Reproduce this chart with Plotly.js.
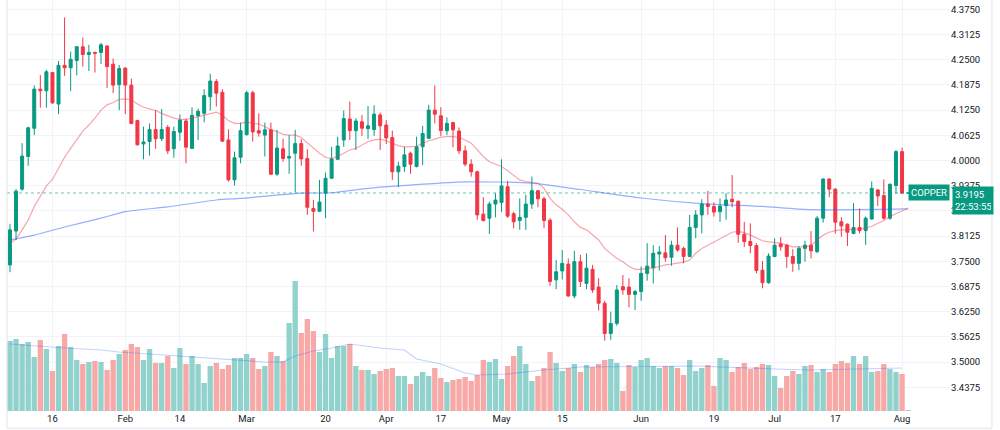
<!DOCTYPE html>
<html>
<head>
<meta charset="utf-8">
<script src="https://cdn.plot.ly/plotly-3.0.1.min.js"></script>
<style>
html,body{margin:0;padding:0;background:#ffffff;}
#chart{width:1000px;height:430px;}
</style>
</head>
<body>
<div id="chart"></div>
<script>
// ---- Data ----
const dates = [
'2023-01-05','2023-01-06','2023-01-09','2023-01-10','2023-01-11','2023-01-12','2023-01-13','2023-01-16','2023-01-17','2023-01-18','2023-01-19','2023-01-20','2023-01-23','2023-01-24','2023-01-25','2023-01-26','2023-01-27','2023-01-30','2023-01-31',
'2023-02-01','2023-02-02','2023-02-03','2023-02-06','2023-02-07','2023-02-08','2023-02-09','2023-02-10','2023-02-13','2023-02-14','2023-02-15','2023-02-16','2023-02-17','2023-02-20','2023-02-21','2023-02-22','2023-02-23','2023-02-24','2023-02-27','2023-02-28',
'2023-03-01','2023-03-02','2023-03-03','2023-03-06','2023-03-07','2023-03-08','2023-03-09','2023-03-10','2023-03-13','2023-03-14','2023-03-15','2023-03-16','2023-03-17','2023-03-20','2023-03-21','2023-03-22','2023-03-23','2023-03-24','2023-03-27','2023-03-28','2023-03-29','2023-03-30','2023-03-31',
'2023-04-03','2023-04-04','2023-04-05','2023-04-06','2023-04-10','2023-04-11','2023-04-12','2023-04-13','2023-04-14','2023-04-17','2023-04-18','2023-04-19','2023-04-20','2023-04-21','2023-04-24','2023-04-25','2023-04-26','2023-04-27','2023-04-28',
'2023-05-01','2023-05-02','2023-05-03','2023-05-04','2023-05-05','2023-05-08','2023-05-09','2023-05-10','2023-05-11','2023-05-12','2023-05-15','2023-05-16','2023-05-17','2023-05-18','2023-05-19','2023-05-22','2023-05-23','2023-05-24','2023-05-25','2023-05-26','2023-05-29','2023-05-30','2023-05-31',
'2023-06-01','2023-06-02','2023-06-05','2023-06-06','2023-06-07','2023-06-08','2023-06-09','2023-06-12','2023-06-13','2023-06-14','2023-06-15','2023-06-16','2023-06-19','2023-06-20','2023-06-21','2023-06-22','2023-06-23','2023-06-26','2023-06-27','2023-06-28','2023-06-29','2023-06-30',
'2023-07-03','2023-07-04','2023-07-05','2023-07-06','2023-07-07','2023-07-10','2023-07-11','2023-07-12','2023-07-13','2023-07-14','2023-07-17','2023-07-18','2023-07-19','2023-07-20','2023-07-21','2023-07-24','2023-07-25','2023-07-26','2023-07-27','2023-07-28','2023-07-31',
'2023-08-01','2023-08-02'
];

const open = [
3.741,3.825,3.929,4.010,4.080,4.177,4.173,4.218,4.140,4.236,4.230,4.248,4.282,4.263,4.268,4.268,4.284,4.239,4.188,
4.229,4.187,4.099,4.041,4.047,4.077,4.054,4.082,4.029,4.070,4.098,4.030,4.111,4.117,4.158,4.196,4.169,4.051,3.952,4.008,
4.064,4.168,4.074,4.063,4.076,3.966,4.029,4.006,4.018,4.042,4.005,3.881,3.874,3.919,3.956,4.003,4.051,4.103,4.074,4.096,4.079,4.077,4.113,
4.088,4.057,3.972,3.985,4.018,3.985,4.034,4.055,4.125,4.111,4.074,4.094,4.073,4.024,3.991,3.972,3.867,3.857,3.892,
3.896,3.935,3.868,3.851,3.859,3.892,3.925,3.905,3.852,3.704,3.726,3.743,3.664,3.749,3.695,3.730,3.686,3.646,3.571,3.596,3.687,3.686,3.668,
3.675,3.720,3.734,3.768,3.771,3.760,3.790,3.782,3.762,3.834,3.865,3.892,3.886,3.873,3.888,3.904,3.899,3.817,3.799,3.789,3.728,3.697,
3.762,3.793,3.790,3.762,3.745,3.782,3.790,3.774,3.857,3.954,3.929,3.848,3.842,3.819,3.834,3.826,3.855,3.927,3.913,3.857,3.938,
4.022,3.9195
];
const high = [
3.843,3.929,4.043,4.084,4.186,4.212,4.225,4.220,4.247,4.355,4.270,4.284,4.305,4.287,4.270,4.292,4.286,4.253,4.237,
4.232,4.203,4.101,4.084,4.092,4.125,4.128,4.088,4.084,4.114,4.103,4.132,4.129,4.177,4.215,4.202,4.177,4.077,4.022,4.094,
4.173,4.173,4.117,4.094,4.094,4.076,4.054,4.063,4.076,4.053,4.028,3.902,3.952,3.970,4.034,4.059,4.124,4.146,4.105,4.113,4.135,4.137,4.119,
4.100,4.074,3.997,4.034,4.022,4.059,4.086,4.138,4.186,4.132,4.107,4.096,4.082,4.037,4.003,3.975,3.909,3.898,3.919,
4.003,3.950,3.873,3.906,3.915,3.960,3.927,3.910,3.857,3.753,3.778,3.757,3.776,3.766,3.770,3.741,3.708,3.652,3.625,3.691,3.716,3.708,3.679,
3.737,3.795,3.790,3.788,3.815,3.801,3.834,3.786,3.865,3.877,3.904,3.925,3.896,3.906,3.919,3.964,3.901,3.848,3.844,3.795,3.751,3.770,
3.807,3.810,3.793,3.780,3.788,3.801,3.825,3.862,3.956,3.956,3.931,3.859,3.844,3.894,3.881,3.861,3.948,3.929,3.953,3.943,4.026,
4.032,3.9200
];
const low = [
3.723,3.803,3.925,3.987,4.063,4.131,4.131,4.140,4.115,4.210,4.172,4.211,4.233,4.222,4.218,4.239,4.180,4.167,4.125,
4.115,4.090,4.037,4.003,4.012,4.029,4.048,4.016,4.007,4.049,3.993,4.029,4.051,4.095,4.124,4.134,4.046,3.948,3.938,3.993,
4.062,4.047,4.059,4.010,3.964,3.962,3.997,3.967,3.921,3.987,3.865,3.824,3.872,3.857,3.954,4.001,4.034,4.051,4.026,4.061,4.053,4.061,4.026,
4.041,3.952,3.934,3.972,3.967,3.983,3.989,4.053,4.092,4.061,4.063,4.033,4.016,3.985,3.960,3.853,3.849,3.818,3.859,
3.872,3.858,3.832,3.828,3.828,3.880,3.884,3.832,3.689,3.681,3.705,3.662,3.658,3.686,3.681,3.672,3.628,3.553,3.555,3.590,3.667,3.636,3.629,
3.652,3.702,3.695,3.727,3.749,3.739,3.774,3.745,3.760,3.807,3.819,3.865,3.861,3.848,3.853,3.884,3.796,3.786,3.770,3.720,3.683,3.694,
3.760,3.776,3.734,3.724,3.728,3.749,3.757,3.770,3.846,3.909,3.819,3.811,3.788,3.817,3.819,3.791,3.853,3.887,3.853,3.853,3.917,
3.917,3.9190
];
const close = [
3.828,3.924,4.011,4.081,4.177,4.173,4.220,4.143,4.236,4.230,4.251,4.282,4.263,4.268,4.266,4.287,4.233,4.187,4.228,
4.187,4.092,4.039,4.046,4.077,4.054,4.077,4.024,4.072,4.100,4.033,4.112,4.122,4.161,4.197,4.167,4.048,3.952,4.007,4.074,
4.168,4.071,4.068,4.076,3.966,4.031,4.005,4.010,4.042,4.004,3.884,3.874,3.897,3.956,4.004,4.036,4.104,4.074,4.098,4.080,4.086,4.115,4.086,
4.056,3.972,3.986,4.014,3.991,4.034,4.067,4.125,4.115,4.074,4.092,4.076,4.024,3.991,3.972,3.865,3.851,3.892,3.902,
3.937,3.862,3.848,3.859,3.892,3.925,3.905,3.851,3.700,3.724,3.745,3.664,3.749,3.700,3.733,3.679,3.646,3.571,3.596,3.679,3.679,3.668,3.675,
3.720,3.738,3.770,3.773,3.759,3.790,3.778,3.762,3.834,3.865,3.892,3.886,3.872,3.887,3.902,3.898,3.817,3.799,3.789,3.727,3.697,3.763,
3.790,3.786,3.762,3.745,3.782,3.790,3.776,3.857,3.954,3.929,3.847,3.838,3.822,3.834,3.826,3.857,3.931,3.912,3.857,3.941,4.022,
3.919,3.9195
];
// volume, thousands of contracts (estimated)
const volume = [
70,72,67,69,54,71,62,40,65,77,64,51,47,49,50,49,41,51,57,
61,67,64,51,62,48,48,55,43,63,47,55,47,28,45,48,42,46,53,53,
57,53,42,45,59,55,50,88,130,78,92,80,59,77,53,65,65,67,45,41,41,37,40,
42,43,35,35,27,35,39,35,43,33,29,31,32,34,30,36,51,49,52,
32,45,55,65,47,30,35,43,59,48,40,43,47,39,46,44,47,51,52,48,20,46,44,
51,53,45,43,45,45,43,36,51,40,43,46,25,53,51,39,44,48,42,44,47,46,
35,23,35,40,37,45,46,39,42,39,47,50,48,55,47,55,39,40,47,42,39,
37,1
];
// short moving average (red), one value per bar
const maShort = [
3.795,3.805,3.828,3.852,3.886,3.910,3.937,3.953,3.981,4.008,4.030,4.051,4.073,4.088,4.105,4.125,4.138,4.144,4.152,
4.153,4.150,4.140,4.132,4.128,4.124,4.117,4.110,4.105,4.102,4.102,4.105,4.109,4.113,4.117,4.120,4.113,4.099,4.092,4.092,
4.096,4.092,4.091,4.084,4.076,4.072,4.065,4.063,4.063,4.057,4.044,4.030,4.018,4.008,4.005,4.010,4.019,4.026,4.030,4.039,4.047,4.051,4.053,
4.049,4.043,4.037,4.034,4.034,4.036,4.043,4.049,4.053,4.058,4.059,4.059,4.057,4.051,4.043,4.026,4.010,3.997,3.991,
3.985,3.975,3.964,3.952,3.948,3.945,3.944,3.931,3.906,3.890,3.879,3.865,3.848,3.834,3.828,3.815,3.803,3.782,3.770,3.757,3.749,3.737,3.730,
3.730,3.733,3.733,3.737,3.741,3.743,3.745,3.748,3.753,3.770,3.782,3.790,3.797,3.805,3.813,3.822,3.824,3.821,3.815,3.807,3.801,3.798,
3.796,3.795,3.790,3.786,3.786,3.786,3.788,3.803,3.815,3.822,3.826,3.828,3.828,3.829,3.830,3.832,3.837,3.844,3.851,3.861,3.868,
3.876,3.882
];
// long moving average (blue), read at sample dates
const maLongDates = ['2023-01-05','2023-01-11','2023-01-18','2023-01-26','2023-02-01','2023-02-10','2023-02-22','2023-02-28','2023-03-14','2023-03-21','2023-03-29','2023-04-05','2023-04-21','2023-05-08','2023-05-18','2023-06-01','2023-06-15','2023-06-29','2023-07-11','2023-08-02'];
const maLong = [3.803,3.815,3.835,3.857,3.873,3.885,3.902,3.906,3.919,3.920,3.931,3.937,3.947,3.944,3.928,3.907,3.893,3.886,3.878,3.880];
// volume moving average, read at sample dates
const volMaDates = ['2023-01-05','2023-01-11','2023-01-18','2023-01-26','2023-01-31','2023-02-07','2023-02-14','2023-02-22','2023-02-27','2023-03-06','2023-03-09','2023-03-13','2023-03-16','2023-03-21','2023-03-24','2023-03-31','2023-04-06','2023-04-11','2023-04-17','2023-04-21','2023-04-25','2023-05-02','2023-05-10','2023-05-18','2023-06-14','2023-06-23','2023-07-03','2023-07-11','2023-08-01'];
const volMa = [67,65,63,61,59,57,55,52,51,49,49,55,60,63,67,63,61,52,47,38,36,37,41,44,45,43,42,41,43];

const tickDates = ['2023-01-16','2023-02-01','2023-02-14','2023-03-01','2023-03-20','2023-04-03','2023-04-17','2023-05-01','2023-05-15','2023-06-01','2023-06-19','2023-07-03','2023-07-17','2023-08-01'];
const tickLabels = ['16','Feb','14','Mar','20','Apr','17','May','15','Jun','19','Jul','17','Aug'];
const priceTicks = [3.4375,3.5,3.5625,3.625,3.6875,3.75,3.8125,3.875,3.9375,4.0,4.0625,4.125,4.1875,4.25,4.3125,4.375];
const priceTickLabels = ['3.4375','3.5000','3.5625','3.6250','3.6875','3.7500','3.8125','3.8750','3.9375','4.0000','4.0625','4.1250','4.1875','4.2500','4.3125','4.3750'];
const symbol = 'COPPER';
const lastPrice = 3.9195;
const lastPriceText = '3.9195';
const countdown = '22:53:55';

// ---- Styling ----
const UP = '#089981', DOWN = '#f23645';
const UPVOL = '#92d2cc', DOWNVOL = '#f7a9a7';
const FONT = 'Roboto, "Liberation Sans", sans-serif';
const volColors = close.map((c, i) => (c >= open[i] ? UPVOL : DOWNVOL));

const traces = [
  {
    type: 'bar', x: dates, y: volume, xaxis: 'x', yaxis: 'y',
    marker: {color: volColors, line: {width: 0}}, hoverinfo: 'skip', showlegend: false
  },
  {
    type: 'scatter', mode: 'lines', x: volMaDates, y: volMa, xaxis: 'x', yaxis: 'y',
    line: {color: 'rgba(41,98,255,0.28)', width: 1.2}, hoverinfo: 'skip', showlegend: false
  },
  {
    type: 'scatter', mode: 'lines', x: maLongDates, y: maLong, xaxis: 'x', yaxis: 'y2',
    line: {color: 'rgba(41,98,255,0.5)', width: 1.2, shape: 'spline', smoothing: 0.6}, hoverinfo: 'skip', showlegend: false
  },
  {
    type: 'scatter', mode: 'lines', x: dates, y: maShort, xaxis: 'x', yaxis: 'y2',
    line: {color: 'rgba(242,54,69,0.45)', width: 1.2}, hoverinfo: 'skip', showlegend: false
  },
  {
    type: 'candlestick', x: dates, open: open, high: high, low: low, close: close,
    xaxis: 'x', yaxis: 'y2',
    increasing: {line: {color: UP, width: 1}, fillcolor: UP},
    decreasing: {line: {color: DOWN, width: 1}, fillcolor: DOWN},
    whiskerwidth: 0, hoverinfo: 'skip', showlegend: false
  }
];

const layout = {
  width: 1000, height: 430,
  margin: {l: 7, r: 50, t: 0, b: 19, pad: 0},
  paper_bgcolor: '#ffffff', plot_bgcolor: '#ffffff',
  font: {family: FONT, size: 9.5, color: '#131722'},
  showlegend: false, hovermode: false, bargap: 0.12,
  xaxis: {
    type: 'category', categoryorder: 'array', categoryarray: dates,
    range: [-0.49, 154.9], rangeslider: {visible: false},
    tickmode: 'array', tickvals: tickDates, ticktext: tickLabels,
    showgrid: true, gridcolor: '#f0f3fa', gridwidth: 1,
    zeroline: false, showline: false, ticks: '', fixedrange: true,
    tickfont: {family: FONT, size: 9.5, color: '#131722'}
  },
  yaxis: {
    range: [0, 411], visible: false, showgrid: false, zeroline: false, fixedrange: true
  },
  yaxis2: {
    overlaying: 'y', side: 'right', anchor: 'x',
    range: [3.3787, 4.3981],
    tickmode: 'array', tickvals: priceTicks, ticktext: priceTickLabels,
    showgrid: true, gridcolor: '#f0f3fa', gridwidth: 1,
    zeroline: false, showline: false, ticks: '', fixedrange: true,
    tickfont: {family: FONT, size: 9.5, color: '#131722'}
  },
  shapes: [
    {type: 'line', xref: 'paper', yref: 'y2', x0: 0, x1: 0.975, y0: lastPrice, y1: lastPrice,
     line: {color: 'rgba(8,153,129,0.6)', width: 1, dash: 'dot'}},
    {type: 'line', xref: 'paper', yref: 'paper', x0: 0, x1: 0, y0: -0.042, y1: 1,
     line: {color: '#e0e3eb', width: 1}},
    {type: 'line', xref: 'paper', yref: 'paper', x0: 0, x1: 1.0445, y0: -0.042, y1: -0.042,
     line: {color: '#e0e3eb', width: 1}},
    {type: 'line', xref: 'paper', yref: 'paper', x0: 1.0445, x1: 1.0445, y0: -0.042, y1: 1,
     line: {color: '#e0e3eb', width: 1}}
  ],
  annotations: [
    {xref: 'paper', yref: 'y2', x: 1, y: lastPrice, xanchor: 'right', yanchor: 'middle',
     text: symbol, showarrow: false, bgcolor: UP, borderpad: 2,
     font: {family: FONT, size: 9.5, color: '#ffffff'}},
    {xref: 'paper', yref: 'y2', x: 1, y: lastPrice, xanchor: 'left', yanchor: 'top', xshift: 2, yshift: 7,
     text: lastPriceText + '<br>' + countdown, showarrow: false, bgcolor: UP, borderpad: 2, align: 'left',
     width: 36, font: {family: FONT, size: 9.5, color: '#ffffff'}}
  ]
};

Plotly.newPlot('chart', traces, layout, {displayModeBar: false, staticPlot: true});
</script>
</body>
</html>
